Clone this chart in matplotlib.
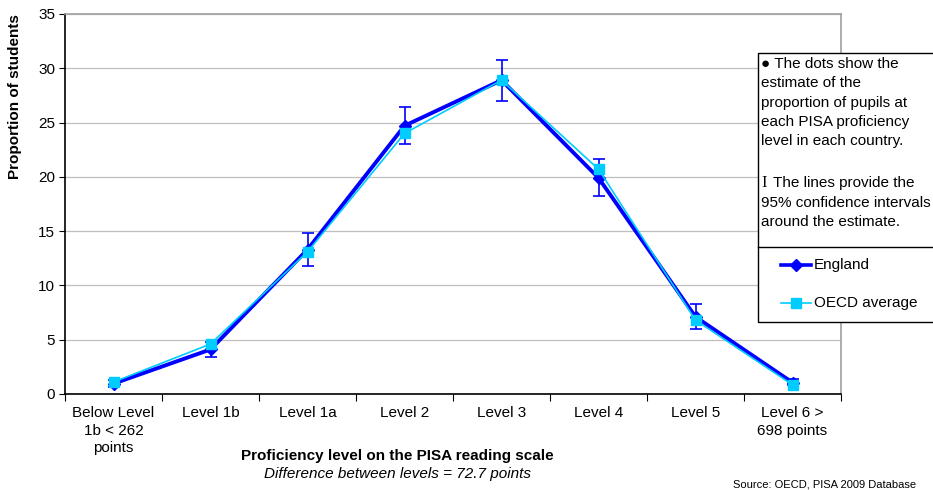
import numpy as np
import matplotlib
matplotlib.use("Agg")
import matplotlib.pyplot as plt
from matplotlib.patches import Rectangle
from matplotlib.lines import Line2D

levels = ["Below Level\n1b < 262\npoints", "Level 1b", "Level 1a", "Level 2",
          "Level 3", "Level 4", "Level 5", "Level 6 >\n698 points"]
england = [0.95, 4.1, 13.3, 24.7, 28.9, 19.9, 7.1, 1.05]
england_lo = [0.65, 3.4, 11.8, 23.0, 27.0, 18.2, 6.0, 0.8]
england_hi = [1.3, 4.8, 14.8, 26.4, 30.8, 21.6, 8.3, 1.35]
oecd = [1.1, 4.6, 13.1, 24.0, 28.9, 20.7, 6.8, 0.85]

plt.rcParams['font.family'] = ['Liberation Sans', 'DejaVu Sans']
FS = 11

fig = plt.figure(figsize=(9.33, 4.90), dpi=100)
ax = fig.add_axes([0.0697, 0.196, 0.8317, 0.7755])

x = np.arange(len(levels))
eng = np.array(england)
yerr = [eng - np.array(england_lo), np.array(england_hi) - eng]

ax.errorbar(x, eng, yerr=yerr, fmt='none', ecolor='#0000ff', elinewidth=1.2,
            capsize=4, capthick=1.2, zorder=2)
ax.plot(x, england, color='#0000ff', lw=2.8, marker='D', ms=6, zorder=3)
ax.plot(x, oecd, color='#00ccff', lw=1.2, marker='s', ms=6.5, zorder=4)

ax.set_xlim(-0.5, 7.5)
ax.set_ylim(0, 35)
ax.set_yticks(range(0, 36, 5))
ax.tick_params(axis='y', labelsize=FS, length=4, direction='out', pad=3)
ax.yaxis.grid(True, color='#bfbfbf', lw=0.9)
ax.set_axisbelow(True)

# category boundaries get the tick marks, labels sit between them
ax.set_xticks(np.arange(-0.5, 8, 1))
ax.set_xticklabels([])
ax.set_xticks(x, minor=True)
ax.set_xticklabels(levels, minor=True, fontsize=FS, linespacing=1.3)
ax.tick_params(axis='x', which='major', length=5, direction='out')
ax.tick_params(axis='x', which='minor', length=0, pad=9)

for side in ('left', 'bottom'):
    ax.spines[side].set_color('black')
    ax.spines[side].set_linewidth(1.2)
for side in ('top', 'right'):
    ax.spines[side].set_color('#a0a0a0')
    ax.spines[side].set_linewidth(1.2)

fig.text(15 / 933, 1 - 97 / 490, "Proportion of students", rotation=90,
         ha='center', va='center', fontsize=FS, fontweight='bold')
fig.text(397 / 933, 1 - 456 / 490, "Proficiency level on the PISA reading scale",
         ha='center', va='center', fontsize=FS, fontweight='bold')
fig.text(397 / 933, 1 - 474 / 490, "Difference between levels = 72.7 points",
         ha='center', va='center', fontsize=FS, style='italic')
fig.text(733 / 933, 1 - 484 / 490, "Source: OECD, PISA 2009 Database",
         ha='left', va='center', fontsize=8)

# note box with the legend underneath
bx0 = 758 / 933
fig.patches.append(Rectangle((bx0, 1 - 322 / 490), 0.3, (322 - 53) / 490,
                             transform=fig.transFigure, facecolor='white',
                             edgecolor='black', lw=1.0, zorder=5))
fig.lines.append(Line2D([bx0, 1.0], [1 - 247 / 490] * 2, transform=fig.transFigure,
                        color='black', lw=1.0, zorder=6))
note_lines = [(64, "\u25cf The dots show the"), (83, "estimate of the"),
              (103, "proportion of pupils at"), (122, "each PISA proficiency"),
              (141, "level in each country."),
              (203, "95% confidence intervals"), (222, "around the estimate.")]
for yy, line in note_lines:
    fig.text(bx0 + 0.003, 1 - yy / 490, line, ha='left', va='center',
             fontsize=FS, zorder=7)
fig.text(bx0 + 0.004, 1 - 183 / 490, "I", ha='left', va='center', fontsize=FS + 1,
         family='Liberation Serif', zorder=8)
fig.text(773 / 933, 1 - 183 / 490, "The lines provide the", ha='left', va='center',
         fontsize=FS, zorder=7)

for yy, col, lw, mk, ms, name in [(265, '#0000ff', 2.6, 'D', 6, "England"),
                                   (303, '#00ccff', 1.2, 's', 6.5, "OECD average")]:
    fy = 1 - yy / 490
    fig.lines.append(Line2D([781 / 933, 811 / 933], [fy, fy], transform=fig.transFigure,
                            color=col, lw=lw, zorder=7))
    fig.lines.append(Line2D([796 / 933], [fy], transform=fig.transFigure, color=col,
                            marker=mk, ms=ms, zorder=8))
    fig.text(814 / 933, fy, name, ha='left', va='center', fontsize=FS, zorder=8)

fig.savefig("out.png", dpi=100)
